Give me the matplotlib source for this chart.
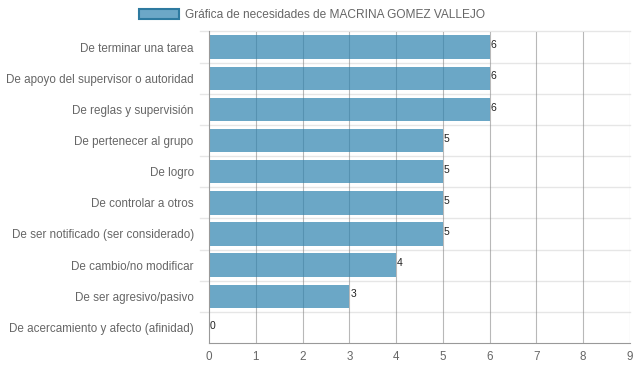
import matplotlib
matplotlib.use('Agg')
import matplotlib.pyplot as plt
from matplotlib.patches import Patch

categorias = ['De terminar una tarea', 'De apoyo del supervisor o autoridad',
              'De reglas y supervisión', 'De pertenecer al grupo', 'De logro',
              'De controlar a otros', 'De ser notificado (ser considerado)',
              'De cambio/no modificar', 'De ser agresivo/pasivo',
              'De acercamiento y afecto (afinidad)']
valores = [6, 6, 6, 5, 5, 5, 5, 4, 3, 0]
ticks_x = list(range(0, 10))
titulo = 'Gráfica de necesidades de MACRINA GOMEZ VALLEJO'

plt.rcParams['font.family'] = ['Liberation Sans', 'DejaVu Sans']

fig = plt.figure(figsize=(6.37, 3.71), dpi=100)
ax_w = 421
ax = fig.add_axes([209 / 637, 1 - 343 / 371, ax_w / 637, (343 - 31.5) / 371])

n = len(categorias)
ys = list(range(n))
ax.barh(ys, valores, height=0.75, color=(45/255, 130/255, 175/255, 0.7), zorder=2)
for y, v in zip(ys, valores):
    ax.text(v + 0.02, y - 0.06, str(v), ha='left', va='center', fontsize=7.5, color='#222', zorder=3)

ax.set_xlim(0, 9)
ax.set_ylim(n - 0.5, -0.5)
ax.set_xticks(ticks_x)
ax.set_yticks(ys)
ax.set_yticklabels(categorias)
ax.tick_params(axis='both', colors='#666', labelsize=8.4, length=0)
ax.tick_params(axis='x', pad=6)
ax.tick_params(axis='y', pad=11)

for x in ticks_x[1:]:
    ax.axvline(x, color='#8a8a8a', lw=0.8, alpha=0.6, zorder=1)
# lineas horizontales entre categorias, con marca hacia la izquierda
for b in [i - 0.5 for i in range(n)]:
    ax.plot([-9 / ax_w, 1], [b, b], color='#e6e6e6', lw=1, zorder=0,
            transform=ax.get_yaxis_transform(), clip_on=False)
for s in ['top', 'right']:
    ax.spines[s].set_visible(False)
ax.spines['left'].set_color('#999')
ax.spines['bottom'].set_color('#999')
ax.spines['left'].set_linewidth(0.8)
ax.spines['bottom'].set_linewidth(0.8)

leg = fig.legend(handles=[Patch(facecolor='#6ca7c7', edgecolor='#2e7aa0', linewidth=1.5, label=titulo)],
                 loc='center', bbox_to_anchor=(312 / 637, 1 - 15 / 371), frameon=False,
                 fontsize=8.6, handlelength=3.4, handleheight=1.0, handletextpad=0.5)
for t in leg.get_texts():
    t.set_color('#666')

fig.savefig('out.png', dpi=100)
